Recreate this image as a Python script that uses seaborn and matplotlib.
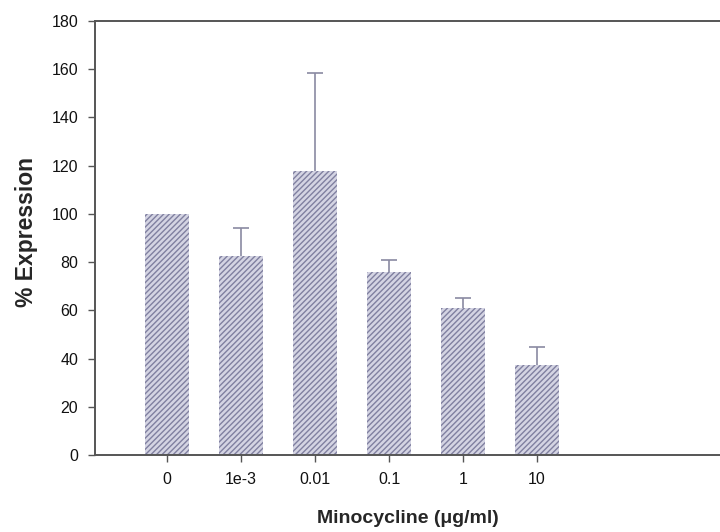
import numpy as np
import pandas as pd
import matplotlib
matplotlib.use('Agg')
import matplotlib.pyplot as plt
import seaborn as sns

# data
doses = ['0', '1e-3', '0.01', '0.1', '1', '10']
expression = [100.0, 82.5, 118.0, 76.0, 61.0, 37.5]
sem_upper = [0.0, 11.5, 40.5, 5.0, 4.0, 7.5]

sns.set_style('white')
plt.rcParams['font.family'] = ['Liberation Sans', 'DejaVu Sans']
plt.rcParams['hatch.linewidth'] = 1.0

df = pd.DataFrame({'dose': doses, 'expr': expression})

fig = plt.figure(figsize=(7.2, 5.32), dpi=100)
ax = fig.add_axes([0.132, 0.1447, 0.868, 0.8158])

sns.barplot(data=df, x='dose', y='expr', order=doses, color='#d4d4e3',
            width=0.6, errorbar=None, ax=ax, saturation=1)
for p in ax.patches:
    p.set_hatch('//////')
    p.set_edgecolor('#8080a0')
    p.set_linewidth(0)

# upper error bars only
xpos = np.arange(len(doses))
has_err = np.array(sem_upper) > 0
_, caps, _ = ax.errorbar(xpos[has_err], np.array(expression)[has_err],
                         yerr=[np.zeros(has_err.sum()), np.array(sem_upper)[has_err]],
                         fmt='none', ecolor='#8a8aa2', elinewidth=1.2,
                         capsize=6, capthick=1.2)
caps[0].set_visible(False)  # no cap at the bar top

ax.set_xlim(-0.97, 7.47)
ax.set_ylim(0, 180)
ax.set_yticks(range(0, 181, 20))

for side in ['left', 'top', 'bottom']:
    ax.spines[side].set_color('#555555')
    ax.spines[side].set_linewidth(1.4)
ax.spines['right'].set_visible(False)

ax.tick_params(axis='both', direction='out', length=5, width=1, color='#555555',
               labelsize=11.5, labelcolor='#111111', pad=7,
               left=True, bottom=True)

ax.set_xlabel('Minocycline (\u03bcg/ml)', fontsize=14, fontweight='bold', labelpad=17)
ax.set_ylabel('% Expression', fontsize=16.5, fontweight='bold')
ax.yaxis.set_label_coords(-0.092, 0.514)

fig.savefig('out.png', dpi=100)
